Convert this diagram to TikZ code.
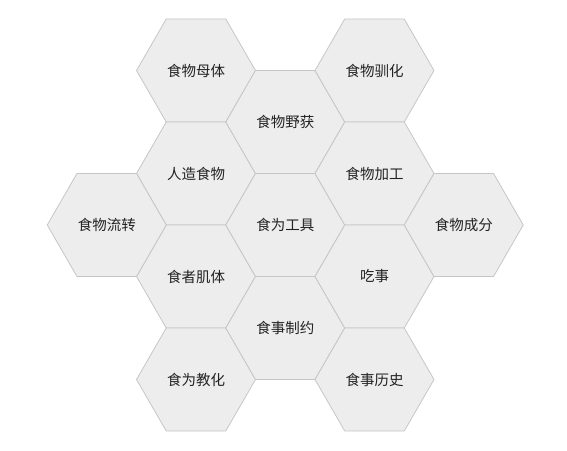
\documentclass[tikz,border=0pt]{standalone}
\usepackage{fontspec}
\setmainfont{Noto Sans CJK SC}
\usetikzlibrary{shapes.geometric}
\definecolor{hexfill}{HTML}{EDEDED}
\definecolor{hexline}{HTML}{C6C6C6}
\definecolor{hextext}{HTML}{222222}
\begin{document}
\begin{tikzpicture}[x=1pt,y=-1pt,
  hexcell/.style={regular polygon, regular polygon sides=6, minimum size=119pt,
    inner sep=0pt, outer sep=0pt, draw=hexline, fill=hexfill, line width=0.8pt,
    text=hextext, font=\fontsize{14.5pt}{16pt}\selectfont}]
\useasboundingbox (0,0) rectangle (567,450);
% column 1 (x=196)
\node[hexcell] (mt) at (196,70.5) {食物母体};
\node[hexcell] (rz) at (196,173.5) {人造食物};
\node[hexcell] (jt) at (196,276.5) {食者肌体};
\node[hexcell] (jh) at (196,379.5) {食为教化};
% column 2
\node[hexcell] (yh) at (285.25,122) {食物野获};
\node[hexcell] (gj) at (285.25,225) {食为工具};
\node[hexcell] (zy) at (285.25,328) {食事制约};
% column 3
\node[hexcell] (xh) at (374.5,70.5) {食物驯化};
\node[hexcell] (jg) at (374.5,173.5) {食物加工};
\node[hexcell] (cs) at (374.5,276.5) {吃事};
\node[hexcell] (ls) at (374.5,379.5) {食事历史};
% column 0 and 4
\node[hexcell] (lz) at (106.75,225) {食物流转};
\node[hexcell] (cf) at (463.75,225) {食物成分};
\end{tikzpicture}
\end{document}
